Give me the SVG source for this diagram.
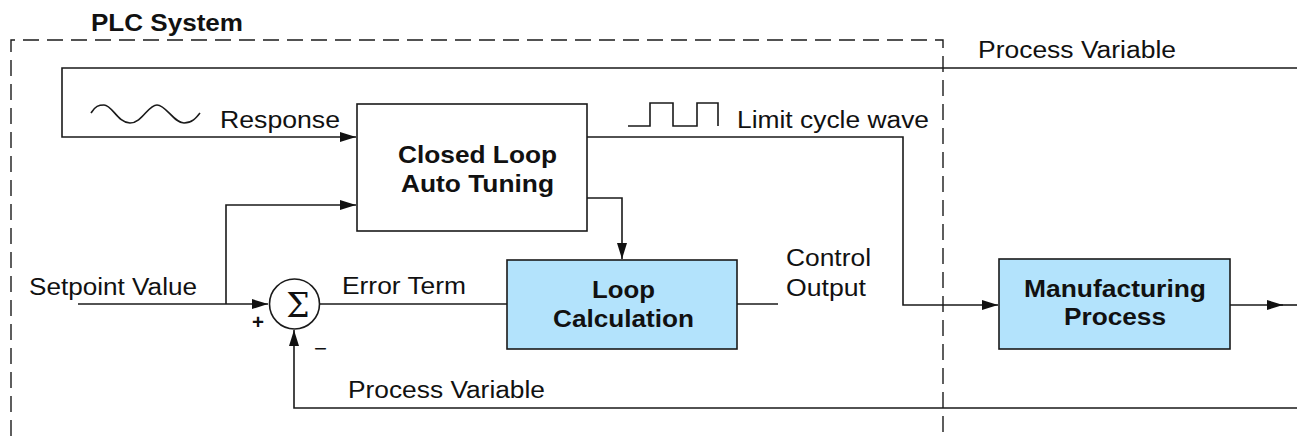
<svg xmlns="http://www.w3.org/2000/svg" width="1297" height="436" viewBox="0 0 1297 436">
<style>
.ln{fill:none;stroke:#1a1a1a;stroke-width:1.6}
.dash{fill:none;stroke:#1a1a1a;stroke-width:1.4;stroke-dasharray:16 8}
.box{fill:#ffffff;stroke:#1a1a1a;stroke-width:1.6}
.blue{fill:#b3e3fc;stroke:#1a1a1a;stroke-width:1.6}
.t{font-family:"Liberation Sans",Arial,sans-serif;font-size:23.5px;fill:#111}
.b{font-family:"Liberation Sans",Arial,sans-serif;font-size:23.5px;font-weight:bold;fill:#111}
</style>
<defs>
<marker id="ar" markerWidth="16" markerHeight="10" refX="16" refY="5" orient="auto" markerUnits="userSpaceOnUse">
<path d="M0,0 L16,5 L0,10 Z" fill="#111"/>
</marker>
</defs>
<rect width="1297" height="436" fill="#fff"/>
<g id="plc-boundary">
<path class="dash" d="M11,436 L11,40 L943,40 L943,436"/>
<text class="b" x="91" y="31" textLength="152" lengthAdjust="spacingAndGlyphs">PLC System</text>
</g>
<g id="connectors">
<path class="ln" d="M1297,68 L62,68 L62,137 L356,137" marker-end="url(#ar)"/>
<path class="ln" d="M78,304 L268,304" marker-end="url(#ar)"/>
<path class="ln" d="M226,304 L226,205 L356,205" marker-end="url(#ar)"/>
<path class="ln" d="M320,304 L507,304"/>
<path class="ln" d="M587,198 L622,198 L622,259" marker-end="url(#ar)"/>
<path class="ln" d="M737,304 L778,304"/>
<path class="ln" d="M587,137 L903,137 L903,305 L998,305" marker-end="url(#ar)"/>
<path class="ln" d="M1230,305 L1283,305" marker-end="url(#ar)"/>
<path class="ln" d="M1280,305 L1297,305"/>
<path class="ln" d="M1297,408 L294,408 L294,330" marker-end="url(#ar)"/>
</g>
<g id="waves">
<path class="ln" d="M91,113 C95,106 99,105 104,105 C112,105 118,123 130,123 C142,123 148,105 157,105 C166,105 174,123 184,123 C192,123 196,118 200,113"/>
<path class="ln" d="M628,126 L650,126 L650,103 L673,103 L673,126 L697,126 L697,103 L718,103 L718,126"/>
</g>
<g id="labels">
<text class="t" x="220" y="128" textLength="120" lengthAdjust="spacingAndGlyphs">Response</text>
<text class="t" x="737" y="128" textLength="192" lengthAdjust="spacingAndGlyphs">Limit cycle wave</text>
<text class="t" x="978" y="58" textLength="198" lengthAdjust="spacingAndGlyphs">Process Variable</text>
<text class="t" x="29" y="295" textLength="168" lengthAdjust="spacingAndGlyphs">Setpoint Value</text>
<text class="t" x="342" y="294" textLength="124" lengthAdjust="spacingAndGlyphs">Error Term</text>
<text class="t" x="786" y="266" textLength="85" lengthAdjust="spacingAndGlyphs">Control</text>
<text class="t" x="786" y="296" textLength="80" lengthAdjust="spacingAndGlyphs">Output</text>
<text class="t" x="348" y="398" textLength="197" lengthAdjust="spacingAndGlyphs">Process Variable</text>
<text class="b" x="252" y="329" style="font-size:21px" textLength="12" lengthAdjust="spacingAndGlyphs">+</text>
<text class="t" x="314" y="356" style="font-size:22px" textLength="13" lengthAdjust="spacingAndGlyphs">−</text>
</g>
<g id="closed-loop">
<rect class="box" x="357" y="104" width="230" height="127"/>
<text class="b" x="398" y="163" textLength="159" lengthAdjust="spacingAndGlyphs">Closed Loop</text>
<text class="b" x="401" y="192" textLength="153" lengthAdjust="spacingAndGlyphs">Auto Tuning</text>
</g>
<g id="sum">
<circle class="box" cx="294.5" cy="304" r="25"/>
<text x="298" y="317" text-anchor="middle" style="font-family:'DejaVu Serif','Liberation Serif',serif;font-size:33px;fill:#111">Σ</text>
</g>
<g id="loop-calc">
<rect class="blue" x="507" y="260" width="230" height="89"/>
<text class="b" x="592" y="298" textLength="63" lengthAdjust="spacingAndGlyphs">Loop</text>
<text class="b" x="553" y="327" textLength="141" lengthAdjust="spacingAndGlyphs">Calculation</text>
</g>
<g id="manufacturing">
<rect class="blue" x="999" y="259" width="231" height="90"/>
<text class="b" x="1024" y="297" textLength="182" lengthAdjust="spacingAndGlyphs">Manufacturing</text>
<text class="b" x="1064" y="325" textLength="102" lengthAdjust="spacingAndGlyphs">Process</text>
</g>
</svg>
